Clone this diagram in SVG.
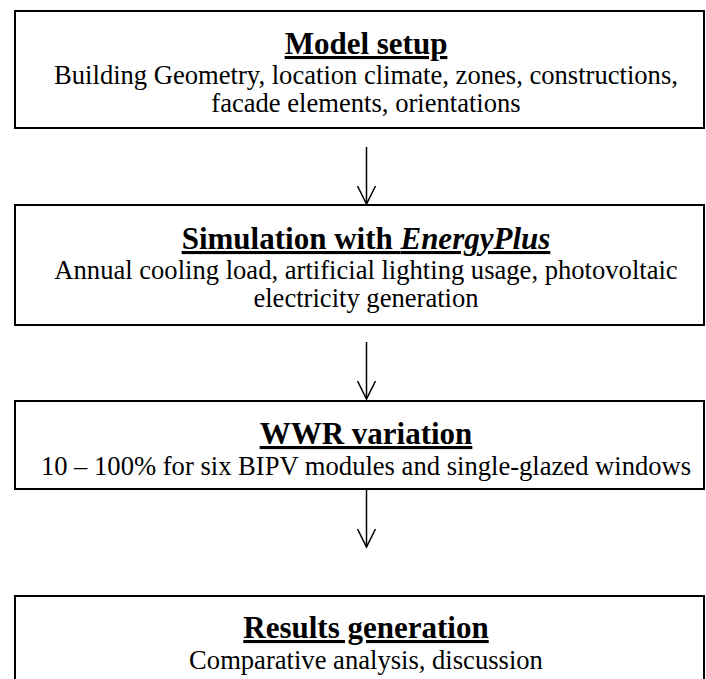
<svg xmlns="http://www.w3.org/2000/svg" width="706" height="679" viewBox="0 0 706 679">
  <style>
    .box { fill: #ffffff; stroke: #000000; stroke-width: 2; }
    .title { font-family: "Liberation Serif", "Times New Roman", serif; font-size: 31px; font-weight: bold; text-anchor: middle; text-decoration: underline; fill: #000; }
    .body { font-family: "Liberation Serif", "Times New Roman", serif; font-size: 26.6px; text-anchor: middle; fill: #000; }
    .conn { fill: none; stroke: #000000; stroke-width: 1.5; }
  </style>
  <defs>
    <marker id="open-arrow" markerWidth="20" markerHeight="22" refX="18" refY="10" orient="auto" markerUnits="userSpaceOnUse">
      <path d="M0,1 L18,10 L0,19" fill="none" stroke="#000" stroke-width="1.5"/>
    </marker>
  </defs>
  <rect width="706" height="679" fill="#ffffff"/>

  <g id="model-setup">
    <rect class="box" x="15" y="11" width="689" height="117"/>
    <text class="title" x="366" y="54">Model setup</text>
    <text class="body" x="366" y="84">Building Geometry, location climate, zones, constructions,</text>
    <text class="body" x="366" y="112">facade elements, orientations</text>
  </g>

  <g id="simulation">
    <rect class="box" x="15" y="205" width="689" height="120"/>
    <text class="title" x="366" y="249">Simulation with <tspan font-style="italic">EnergyPlus</tspan></text>
    <text class="body" x="366" y="279">Annual cooling load, artificial lighting usage, photovoltaic</text>
    <text class="body" x="366" y="307">electricity generation</text>
  </g>

  <g id="wwr-variation">
    <rect class="box" x="15" y="401" width="689" height="88"/>
    <text class="title" x="366" y="444">WWR variation</text>
    <text class="body" x="366" y="475">10 – 100% for six BIPV modules and single-glazed windows</text>
  </g>

  <g id="results">
    <rect class="box" x="15" y="596" width="689" height="100"/>
    <text class="title" x="366" y="638">Results generation</text>
    <text class="body" x="366" y="669">Comparative analysis, discussion</text>
  </g>

  <g id="connectors">
    <line class="conn" x1="366.5" y1="147" x2="366.5" y2="204" marker-end="url(#open-arrow)"/>
    <line class="conn" x1="366.5" y1="342" x2="366.5" y2="399" marker-end="url(#open-arrow)"/>
    <line class="conn" x1="366.5" y1="489" x2="366.5" y2="547" marker-end="url(#open-arrow)"/>
  </g>
</svg>
